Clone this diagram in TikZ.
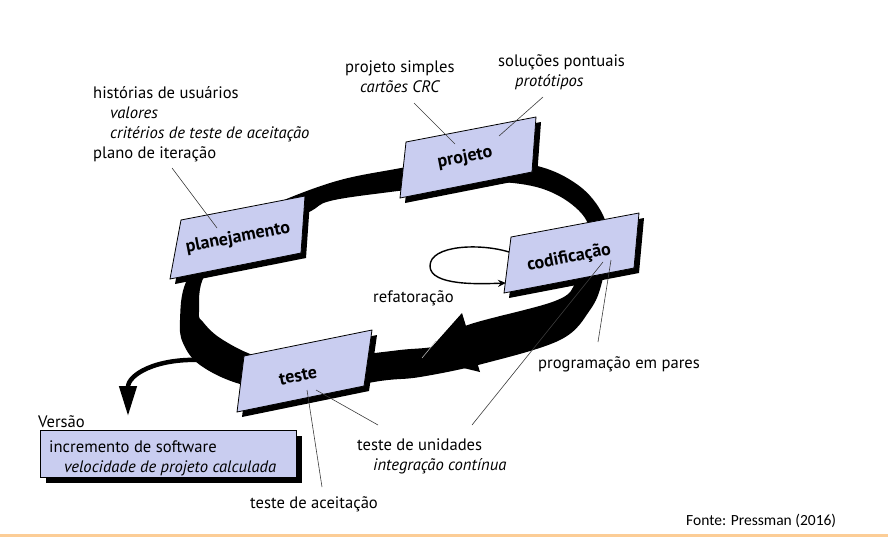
\documentclass[tikz,border=0pt]{standalone}
\usepackage{fontspec}
\setmainfont{PT Sans}
\newfontfamily\fontefont{Carlito}
\usetikzlibrary{arrows.meta}
\definecolor{boxblue}{RGB}{201,205,240}
\definecolor{leadgray}{RGB}{60,60,60}
\definecolor{rulecolor}{RGB}{252,205,150}
\tikzset{x=1pt, y=-1pt, % picture is laid out in pixel units, y pointing down
  txt/.style={font=\fontsize{16.6}{20}\selectfont, inner sep=0pt, align=left, anchor=base west},
  phase/.style={font=\bfseries\fontsize{18}{20}\selectfont, inner sep=0pt, rotate=11},
  leader/.style={draw=leadgray, line width=0.6pt},
  boxfill/.style={fill=boxblue, draw=black, line width=0.8pt},
  shadowfill/.style={fill=black},
}
% tilted box with a black shadow
\newcommand{\phasebox}[4]{%
  \fill[shadowfill, shift={(5,5)}] #1 -- #2 -- #3 -- #4 -- cycle;
  \draw[boxfill] #1 -- #2 -- #3 -- #4 -- cycle;}

\begin{document}
\begin{tikzpicture}
  \useasboundingbox (0,0) rectangle (888,538);

  % the loop
  \fill[even odd rule]
    plot[smooth cycle, tension=0.6] coordinates {(180,320) (186,282) (215,240) (262,210) (330,183) (390,170) (460,160)
      (533,165) (578,185) (603,215) (607,245) (602,282) (590,310) (560,340) (482,364) (420,377) (380,381) (300,394) (240,384) (200,365) (183,343)}
    plot[smooth cycle, tension=0.6] coordinates {(199,312) (205,275) (245,240) (307,213) (330,201) (390,192) (460,184)
      (500,182) (540,188) (570,203) (588,224) (588,252) (576,282) (555,301) (465,326) (440,345) (400,350) (340,357) (290,362) (253,355) (220,338) (203,322)};
  \fill (422,358) -- (462,313) -- (480,372) -- cycle;
  \draw[gray!60, line width=0.6pt] (422,358) -- (436,341);

  % leaving the loop
  \draw[line width=4.5pt, -{Triangle[length=30pt, width=17pt]}] (202,360) .. controls (155,358) and (128,375) .. (128,416);

  % the four phases
  \phasebox{(181,220)}{(305,196)}{(301,253)}{(170,279)}
  \phasebox{(406,142)}{(536,117)}{(532,172)}{(400,198)}
  \phasebox{(511,237)}{(639,213)}{(634,268)}{(504,293)}
  \phasebox{(244,356)}{(372,330)}{(364,386)}{(237,412)}
  \node[phase] (planlbl) at (238,238) {planejamento};
  \node[phase] (projlbl) at (465,158) {projeto};
  \node[phase] (codlbl) at (569,258) {codificação};
  \node[phase] (testelbl) at (298,376) {teste};

  % refactoring loop
  \draw[line width=1.4pt, -{Stealth[length=8pt, width=7pt]}] (509,252) .. controls (480,243) and (430,245) .. (430,266)
    .. controls (430,286) and (480,284) .. (506,283);

  % texts (a node's base is its last line)
  \node[txt] (hist) at (93,158) {histórias de usuários\\\hspace*{17pt}\textit{valores}\\\hspace*{17pt}\textit{critérios de teste de aceitação}\\plano de iteração};
  \node[txt] (projsimp) at (345,92) {projeto simples\\\hspace*{15pt}\textit{cartões CRC}};
  \node[txt] (solucoes) at (498,86) {soluções pontuais\\\hspace*{17pt}\textit{protótipos}};
  \node[txt] (refat) at (373,302) {refatoração};
  \node[txt] (pares) at (538,368) {programação em pares};
  \node[txt] (unidades) at (357,470) {teste de unidades\\\hspace*{16pt}\textit{integração contínua}};
  \node[txt] (aceit) at (250,508) {teste de aceitação};
  \node[txt] (versao) at (38,427) {Versão};

  % release box
  \fill[shadowfill] (46,436) rectangle (302,483);
  \draw[boxfill] (40,430) rectangle (296,477);
  \node[txt] (incremento) at (49,472) {incremento de software\\\hspace*{15pt}\textit{velocidade de projeto calculada}};

  % leaders
  \coordinate (planpt) at (217,228);
  \coordinate (projpta) at (455,144);
  \coordinate (projptb) at (499,136);
  \coordinate (codpta) at (603,262);
  \coordinate (codptb) at (611,260);
  \coordinate (testepta) at (307,390);
  \coordinate (testeptb) at (316,390);
  \draw[leader] ([xshift=79pt, yshift=-10pt]hist.base west) -- (planpt);
  \draw[leader] ([xshift=69pt, yshift=-11pt]projsimp.base west) -- (projpta);
  \draw[leader] ([xshift=45pt, yshift=-11pt]solucoes.base west) -- (projptb);
  \draw[leader] (codpta) -- ([xshift=115pt, yshift=45pt]unidades.base west);
  \draw[leader] (codptb) -- ([xshift=60pt, yshift=26pt]pares.base west);
  \draw[leader] (testepta) -- ([xshift=72pt, yshift=21pt]aceit.base west);
  \draw[leader] (testeptb) -- ([xshift=21pt, yshift=45pt]unidades.base west);

  % source
  \node[anchor=base west, inner sep=0pt, font=\fontefont\fontsize{15.5}{17}\selectfont] (fonte) at (686,525) {Fonte: Pressman (2016)};
  \draw[rulecolor, line width=3pt] (0,535) -- (888,535);
\end{tikzpicture}
\end{document}
